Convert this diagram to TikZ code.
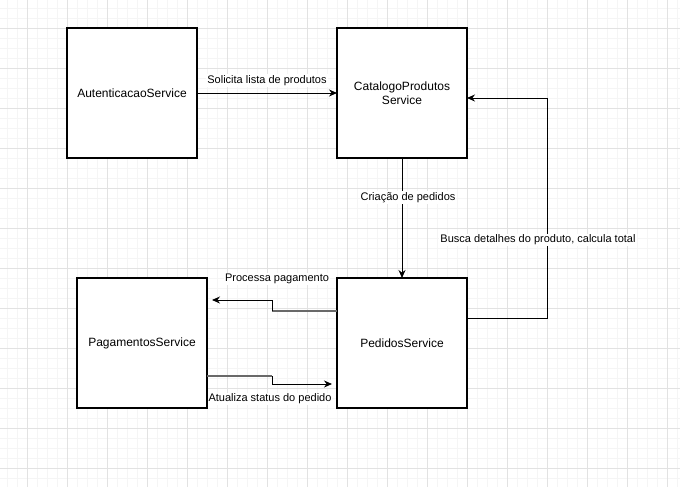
\documentclass[tikz,border=0pt]{standalone}
\usepackage{fontspec}
\setmainfont{Liberation Sans}
\usepackage{tikz}
\usetikzlibrary{arrows.meta,positioning,calc}
\definecolor{gridMajor}{RGB}{226,226,226}
\definecolor{gridMinor}{RGB}{245,245,245}
\definecolor{linkGray}{RGB}{105,105,105}

\begin{document}
\begin{tikzpicture}[x=1pt,y=-1pt,
    service/.style={draw, line width=1.2pt, fill=white, minimum width=130pt,
      minimum height=130pt, inner sep=0pt, outer sep=0pt, align=center,
      font=\fontsize{12}{14}\selectfont},
    flow/.style={line width=1pt, -{Stealth[length=8pt,width=7pt]}},
    graylink/.style={linkGray, line width=1.6pt},
    tag/.style={fill=white, inner sep=1pt, font=\fontsize{11}{13}\selectfont}]
  \useasboundingbox (0,0) rectangle (680,487);
  % background grid
  \foreach \x in {7,17,...,677} \draw[gridMinor, line width=0.8pt] (\x,0) -- (\x,487);
  \foreach \y in {8,18,...,478} \draw[gridMinor, line width=0.8pt] (0,\y) -- (680,\y);
  \foreach \x in {27,67,...,667} \draw[gridMajor, line width=0.8pt] (\x,0) -- (\x,487);
  \foreach \y in {28,68,...,468} \draw[gridMajor, line width=0.8pt] (0,\y) -- (680,\y);

  % services
  \node[service] (auth) at (132,93) {AutenticacaoService};
  \node[service, right=140pt of auth] (catalogo) {CatalogoProdutos\\Service};
  \node[service, below=120pt of catalogo] (pedidos) {PedidosService};
  \node[service, left=130pt of pedidos] (pagamentos) {PagamentosService};

  % connectors
  \draw[flow] (auth) -- node[tag, above=6pt] {Solicita lista de produtos} (catalogo);
  \draw[flow] (catalogo) -- node[tag, pos=0.33, xshift=6pt] {Criação de pedidos} (pedidos);

  \coordinate (buscaStart) at ($(pedidos.east)+(0,-25)$);
  \coordinate (buscaEnd) at ($(catalogo.east)+(0,5)$);
  \coordinate (buscaTurn) at ($(buscaStart)+(80,0)$);
  \draw[flow] (buscaStart) -- (buscaTurn)
    -- node[tag, pos=0.355, xshift=-9pt] {Busca detalhes do produto, calcula total} (buscaTurn |- buscaEnd)
    -- (buscaEnd);

  % Pedidos -> Pagamentos
  \coordinate (procBend) at ($(pedidos.west)+(-65,-32)$);
  \draw[graylink] ($(pedidos.west)+(0,-32)$) -- (procBend);
  \draw[flow, shorten >=5pt] (procBend) |- ($(pagamentos.east)+(0,-43)$);
  \node[tag] (procLabel) at ($(procBend)+(5,-32)$) {Processa pagamento};

  % Pagamentos -> Pedidos
  \coordinate (atuaBend) at ($(pagamentos.east)+(65,33)$);
  \draw[graylink] ($(pagamentos.east)+(0,33)$) -- (atuaBend);
  \draw[flow, shorten >=5pt] (atuaBend) |- ($(pedidos.west)+(0,41)$);
  \node[tag] (atuaLabel) at ($(atuaBend)+(-2,23)$) {Atualiza status do pedido};
\end{tikzpicture}
\end{document}
